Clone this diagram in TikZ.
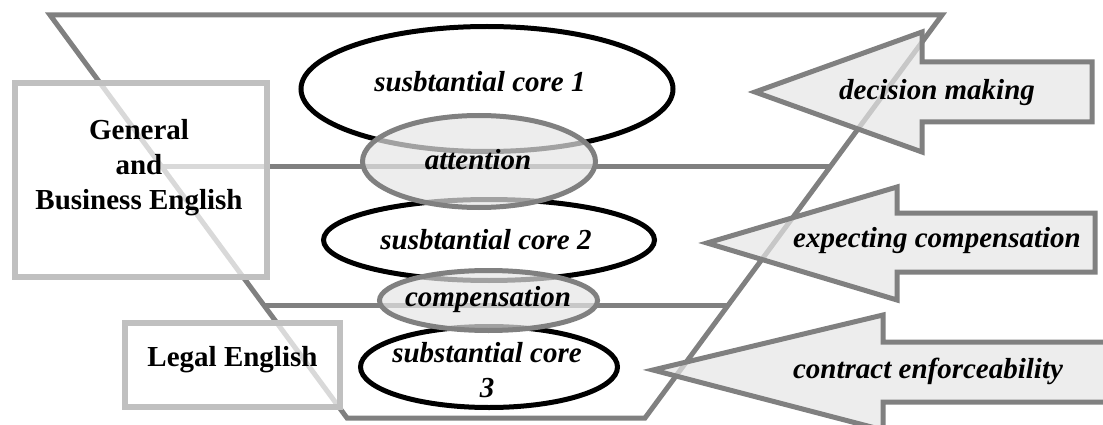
\documentclass[tikz,border=0pt]{standalone}
\usepackage{fontspec}
\setmainfont{Liberation Serif}
\usepackage{tikz}
\usetikzlibrary{shapes.geometric,calc}
\definecolor{edgegray}{HTML}{808080}
\definecolor{framegray}{HTML}{C0C0C0}
\definecolor{shadegray}{HTML}{E6E6E6}

\begin{document}
\begin{tikzpicture}[
    x=1pt, y=-1pt,
    funnel/.style={draw=edgegray,line width=5pt},
    frame/.style={draw=framegray,line width=6pt,fill=white,fill opacity=0.7},
    core/.style={ellipse,draw=black,line width=5pt,fill=white,inner sep=0pt},
    link/.style={ellipse,draw=edgegray,line width=5pt,fill=shadegray,fill opacity=0.7,inner sep=0pt},
    factor/.style={draw=edgegray,line width=5pt,fill=shadegray,fill opacity=0.7},
    plain/.style={align=center,inner sep=0pt,font=\fontsize{29}{35}\selectfont\bfseries},
    slant/.style={align=center,inner sep=0pt,font=\fontsize{29}{35}\selectfont\bfseries\itshape}
]
\clip (0,0) rectangle (1103,425);
\coordinate (tl) at (50,15);
\coordinate (tr) at (942,15);
\coordinate (br) at (645,418);
\coordinate (bl) at (347,418);
\draw[funnel] (tl) -- (tr) -- (br) -- (bl) -- cycle;
\draw[funnel] ($(tl)!.377!(bl)$) -- ($(tr)!.377!(br)$);
\draw[funnel] ($(tl)!.72!(bl)$) -- ($(tr)!.72!(br)$);

\node[frame,minimum width=252pt,minimum height=194pt] (gbe) at (141,180) {};
\node[plain] (gbetext) at (139,168) {General\\and\\Business English};
\node[frame,minimum width=215pt,minimum height=84pt] (legal) at (232.5,365) {};
\node[plain] (legaltext) at (232.5,360) {Legal English};

\node[core,minimum width=372pt,minimum height=125pt] (core1) at (487,89) {};
\node[core,minimum width=331pt,minimum height=81pt] (core2) at (489,240) {};
\node[core,minimum width=257pt,minimum height=81pt] (core3) at (489,367) {};
\node[link,minimum width=233pt,minimum height=92pt] (attention) at (479,161.5) {};
\node[link,minimum width=218pt,minimum height=60pt] (compensation) at (488.5,300.5) {};
\node[slant] (core1text) at (480,82) {susbtantial core 1};
\node[slant] (core2text) at (486,240) {susbtantial core 2};
\node[slant] (core3text) at (487,370) {substantial core\\3};
\node[slant] (attentiontext) at (478,160) {attention};
\node[slant] (compensationtext) at (488,300) {compensation};

\draw[factor] (755,92) -- (922,32) -- (922,62) -- (1092,62) -- (1092,122) -- (922,122) -- (922,152) -- cycle;
\draw[factor] (707,243) -- (897,187) -- (897,213) -- (1095,213) -- (1095,272) -- (897,272) -- (897,300) -- cycle;
\draw[factor] (653,370) -- (883,315) -- (883,342) -- (1120,342) -- (1120,402) -- (883,402) -- (883,430) -- cycle;
\node[slant] (decision) at (937,93) {decision making};
\node[slant] (expecting) at (937,241) {expecting compensation};
\node[slant] (enforce) at (928,371) {contract enforceability};
\end{tikzpicture}
\end{document}
